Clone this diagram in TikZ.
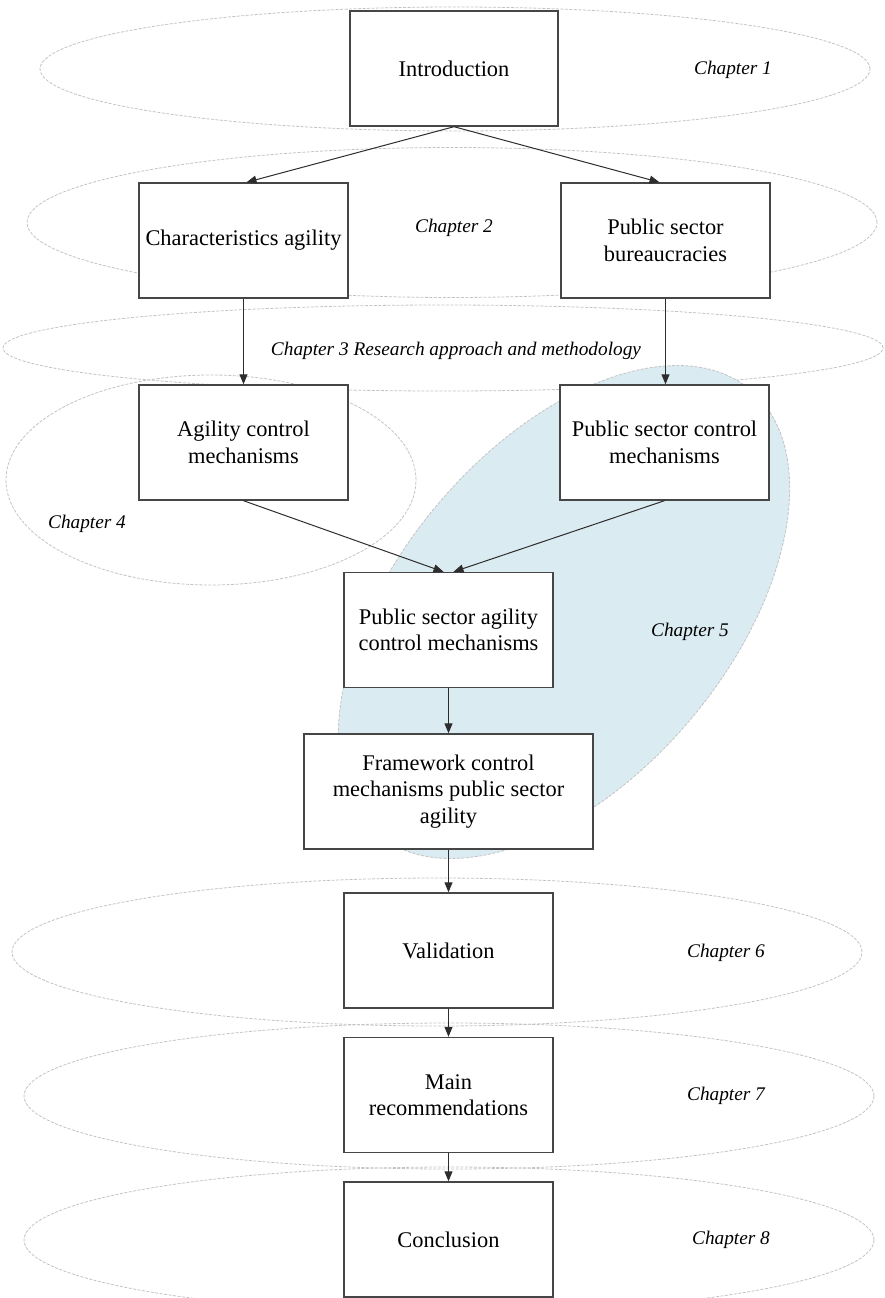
\documentclass[tikz,border=0pt]{standalone}
\usepackage{fontspec}
\setmainfont{Liberation Serif}
\usetikzlibrary{arrows.meta}
\definecolor{boxline}{RGB}{70,70,70}
\definecolor{arrline}{RGB}{45,45,45}
\definecolor{chline}{RGB}{195,195,195}
\definecolor{chfill}{RGB}{218,235,241}
\tikzset{
  box/.style={draw=boxline, line width=1.4pt, fill=white, minimum width=209pt,
    minimum height=115pt, align=center, inner sep=0pt,
    font=\fontsize{22.4}{26.5}\selectfont},
  chap/.style={draw=chline, line width=0.8pt, dash pattern=on 3pt off 1.5pt},
  lbl/.style={font=\fontsize{19.3}{23}\selectfont\itshape, inner sep=0pt},
  arr/.style={draw=arrline, line width=1pt, -{Triangle[length=10pt,width=8pt]}}
}
\begin{document}
\begin{tikzpicture}[x=1pt,y=-1pt]
\useasboundingbox (0,0) rectangle (885,1298);
\clip (0,0) rectangle (885,1298);
% chapter ellipses
\draw[chap] (455,69) ellipse [x radius=415pt, y radius=62pt];
\draw[chap] (452,222.5) ellipse [x radius=425pt, y radius=75pt];
\draw[chap] (443,348) ellipse [x radius=440pt, y radius=43pt];
\draw[chap] (211,480) ellipse [x radius=205pt, y radius=105pt];
\draw[chap, fill=chfill] (564,612) ellipse [x radius=290pt, y radius=166pt, rotate=50];
\draw[chap] (437,952) ellipse [x radius=425pt, y radius=74pt];
\draw[chap] (449,1096) ellipse [x radius=425pt, y radius=73pt];
\draw[chap] (449,1240) ellipse [x radius=425pt, y radius=73pt];
% boxes
\node[box, minimum width=208pt] (intro) at (454,68.5) {Introduction};
\node[box] (char) at (243.5,240.5) {Characteristics agility};
\node[box] (bur) at (665.5,240.5) {Public sector\\bureaucracies};
\node[box] (acm) at (243.5,442.5) {Agility control\\mechanisms};
\node[box] (psc) at (664.5,442.5) {Public sector control\\mechanisms};
\node[box] (psacm) at (448.5,630) {Public sector agility\\control mechanisms};
\node[box, minimum width=289pt] (fw) at (448.5,791.5) {Framework control\\mechanisms public sector\\agility};
\node[box] (val) at (448.5,950.5) {Validation};
\node[box] (main) at (448.5,1095) {Main\\recommendations};
\node[box] (concl) at (448.5,1239.5) {Conclusion};
% labels
\node[lbl] (c1) at (733,70) {Chapter 1};
\node[lbl] (c2) at (454,228) {Chapter 2};
\node[lbl] (c3) at (456,351) {Chapter 3 Research approach and methodology};
\node[lbl] (c4) at (87,524) {Chapter 4};
\node[lbl] (c5) at (690,632) {Chapter 5};
\node[lbl] (c6) at (726,953) {Chapter 6};
\node[lbl] (c7) at (726,1096) {Chapter 7};
\node[lbl] (c8) at (731,1240) {Chapter 8};
% connectors
\draw[arr] (intro.south) -- ([xshift=3pt]char.north);
\draw[arr] (intro.south) -- ([xshift=-6pt]bur.north);
\draw[arr] (char.south) -- (acm.north);
\draw[arr] (bur.south) -- ([xshift=1pt]psc.north);
\draw[arr] (acm.south) -- ([xshift=-5pt]psacm.north);
\draw[arr] (psc.south) -- ([xshift=5pt]psacm.north);
\draw[arr] (psacm.south) -- (fw.north);
\draw[arr] (fw.south) -- (val.north);
\draw[arr] (val.south) -- (main.north);
\draw[arr] (main.south) -- (concl.north);
\end{tikzpicture}
\end{document}
